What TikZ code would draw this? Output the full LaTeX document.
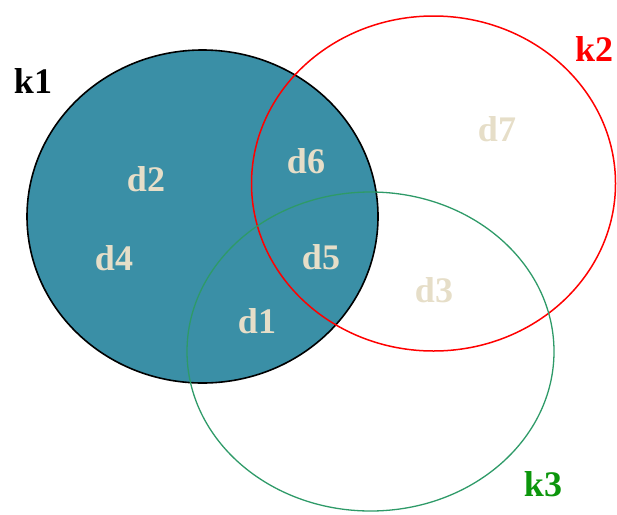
\documentclass[tikz,border=0pt]{standalone}
\usepackage{fontspec}
\setmainfont{Liberation Serif}
\definecolor{kteal}{RGB}{58,143,166}
\definecolor{dbeige}{RGB}{230,222,200}
\definecolor{kgreenline}{RGB}{46,154,104}
\definecolor{kgreen}{RGB}{12,150,12}
\tikzset{
  doc/.style={text=dbeige, font=\fontsize{36}{36}\selectfont\bfseries, inner sep=0pt},
  keyw/.style={font=\fontsize{36}{36}\selectfont\bfseries, inner sep=0pt}
}
\begin{document}
\begin{tikzpicture}[x=1pt,y=-1pt]
  \useasboundingbox (0,0) rectangle (617,514);
  % keyword sets
  \draw[fill=kteal, line width=1.6pt] (202.5,216.5) ellipse [x radius=175.5, y radius=166.5];
  \draw[red, line width=1.5pt] (433.5,183.5) ellipse [x radius=182, y radius=167.5];
  \draw[kgreenline, line width=1.3pt] (370.5,351.5) ellipse [x radius=183.5, y radius=159.5];
  % labels
  \node[keyw] (k1) at (33,81) {k1};
  \node[keyw, text=red] (k2) at (594,49) {k2};
  \node[keyw, text=kgreen] (k3) at (543,484) {k3};
  % documents
  \node[doc] (d2) at (146,179) {d2};
  \node[doc] (d4) at (114,258) {d4};
  \node[doc] (d6) at (306,161) {d6};
  \node[doc] (d5) at (321,257) {d5};
  \node[doc] (d1) at (257,321) {d1};
  \node[doc] (d3) at (434,290) {d3};
  \node[doc] (d7) at (497,129) {d7};
\end{tikzpicture}
\end{document}
